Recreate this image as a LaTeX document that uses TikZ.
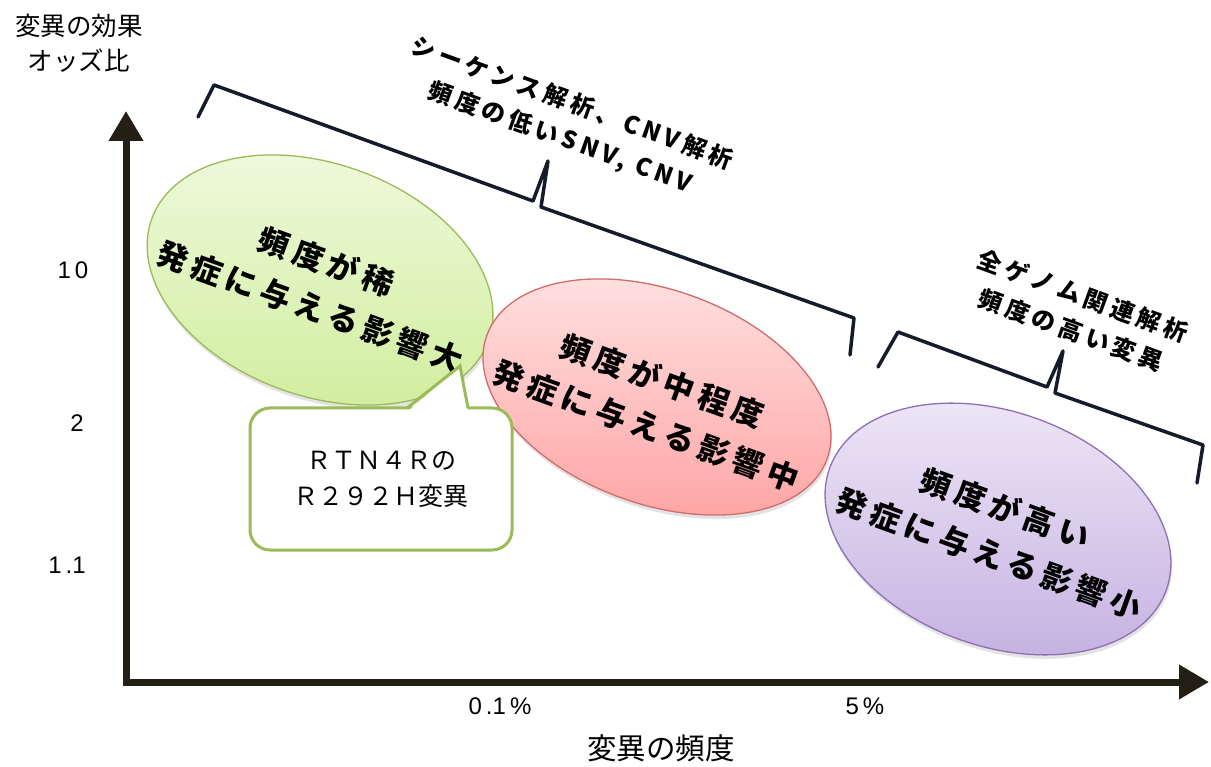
\documentclass[tikz,border=0pt]{standalone}
\usepackage{fontspec}
\setmainfont{Liberation Sans}
\newfontfamily\jp{Noto Sans CJK JP}
\newfontfamily\jpsp[LetterSpace=18]{Noto Sans CJK JP}
\usetikzlibrary{arrows.meta,shapes.geometric,shadows,calc}
\definecolor{axiscol}{HTML}{231F14}
\definecolor{bracecol}{HTML}{151B2B}
\definecolor{gtop}{HTML}{EFFADF}
\definecolor{gbot}{HTML}{D2EEA0}
\definecolor{gline}{HTML}{9BBB59}
\definecolor{rtop}{HTML}{FFE3E3}
\definecolor{rbot}{HTML}{FFA6A6}
\definecolor{rline}{HTML}{D46A6A}
\definecolor{ptop}{HTML}{EFE9F7}
\definecolor{pbot}{HTML}{C7B3E2}
\definecolor{pline}{HTML}{8D70B3}
\begin{document}
\begin{tikzpicture}[x=1pt,y=-1pt,
  bubble/.style={ellipse, line width=1.3pt, minimum width=358pt, minimum height=230pt, inner sep=0pt, rotate=-20,
    drop shadow={opacity=0.22, shadow xshift=1pt, shadow yshift=-4pt}},
  bubbletext/.style={rotate=-20, align=center, inner sep=0pt, font=\jpsp\bfseries\fontsize{31}{48}\selectfont, text=black},
  bracelabel/.style={rotate=-20, align=center, inner sep=0pt, font=\jpsp\bfseries\fontsize{24}{36}\selectfont, text=black},
  bracket/.style={draw=bracecol, line width=3.5pt, line join=round, line cap=round},
  axis/.style={draw=axiscol, line width=7pt, line join=miter},
  ticklabel/.style={inner sep=0pt, font=\fontsize{24}{28}\selectfont},
  axistitle/.style={inner sep=0pt, align=center, font=\jp\fontsize{25.5}{35}\selectfont},
  calloutbox/.style={draw=gline, fill=white, line width=3pt, rounded corners=20pt, minimum width=262pt, minimum height=142pt, inner sep=0pt, align=center, font=\jp\fontsize{25}{36}\selectfont},
]
\path[use as bounding box, fill=white] (0,0) rectangle (1211,767);

% axes
\coordinate (O) at (126,682);
\coordinate (ytip) at (126,111);
\coordinate (xtip) at (1209,682);
\draw[axis, {Triangle[width=33pt,length=30pt]}-{Triangle[width=33pt,length=30pt]}] (ytip) -- (O) -- (xtip);

% axis titles and labels
\node[axistitle] (ytitle) at (79,43) {変異の効果\\オッズ比};
\node[axistitle, font=\jp\fontsize{29.5}{35}\selectfont] (xtitle) at (661,748) {変異の頻度};
\node[ticklabel] (y10) at (73,270) {1\,0};
\node[ticklabel] (y2) at (77,423) {2};
\node[ticklabel] (y11) at (67,565) {1\,.1};
\node[ticklabel] (x01) at (500,706) {0\,.1\,\%};
\node[ticklabel] (x5) at (865,706) {5\,\%};

% brackets
\coordinate (a1) at (198,117);
\coordinate (a2) at (214,85);
\coordinate (a3) at (533,201);
\coordinate (a4) at (548,161);
\coordinate (a5) at (541,207);
\coordinate (a6) at (854,318);
\coordinate (a7) at (850,355);
\draw[bracket] (a1) -- (a2) -- (a3) -- (a4) (a4) -- (a5) -- (a6) -- (a7);
\coordinate (b1) at (878,367);
\coordinate (b2) at (898,332);
\coordinate (b3) at (1047,387);
\coordinate (b4) at (1063,351);
\coordinate (b5) at (1055,393);
\coordinate (b6) at (1203,445);
\coordinate (b7) at (1197,483);
\draw[bracket] (b1) -- (b2) -- (b3) -- (b4) (b4) -- (b5) -- (b6) -- (b7);

\node[bracelabel] (lab1) at (566,121) {シーケンス解析、CNV解析\\頻度の低いSNV, CNV};
\node[bracelabel] (lab2) at (1077,313) {全ゲノム関連解析\\頻度の高い変異};

% ellipses
\node[bubble, draw=gline, top color=gtop, bottom color=gbot, minimum height=232pt] (g) at (320,280) {};
\node[bubbletext] (gt) at (318,284) {頻度が稀\\発症に与える影響大};
\node[bubble, draw=rline, top color=rtop, bottom color=rbot, minimum width=362pt, minimum height=214pt] (r) at (657,397) {};
\node[bubbletext] (rt) at (654,403) {頻度が中程度\\発症に与える影響中};
\node[bubble, draw=pline, top color=ptop, bottom color=pbot, minimum height=234pt] (p) at (998,529) {};
\node[bubbletext] (pt) at (997,531) {頻度が高い\\発症に与える影響小};

% callout
\node[calloutbox] (cb) at (381,479) {ＲＴＮ４Ｒの\\Ｒ２９２Ｈ変異};
\coordinate (c1) at (407,408);
\coordinate (ctip) at (460,366);
\coordinate (c2) at (468,408);
\fill[white] ($(c1)+(0,4)$) -- (ctip) -- ($(c2)+(0,4)$) -- cycle;
\draw[draw=gline, line width=3pt, line join=miter] (c1) -- (ctip) -- (c2);
\end{tikzpicture}
\end{document}
